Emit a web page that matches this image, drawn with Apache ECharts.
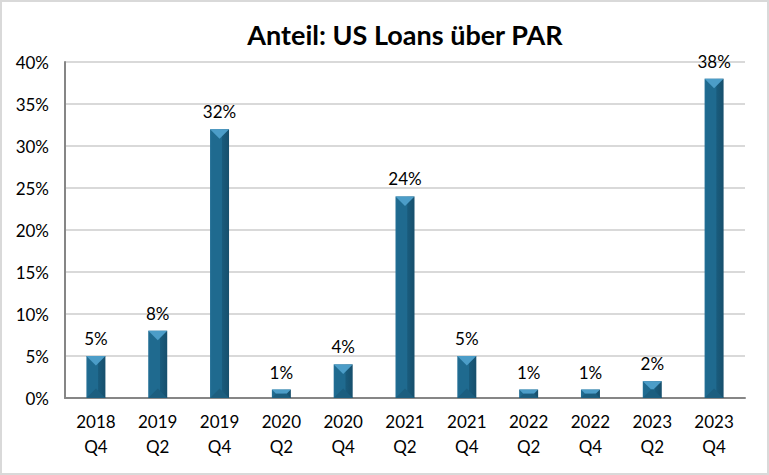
<!DOCTYPE html>
<html><head><meta charset="utf-8">
<script src="https://cdn.jsdelivr.net/npm/echarts@6/dist/echarts.min.js"></script>
<style>
html,body{margin:0;padding:0;background:#fff;}
#c{width:769px;height:475px;box-sizing:border-box;border:2px solid #d9d9d9;}
</style></head><body>
<div id="c"></div>
<script>
const title = 'Anteil: US Loans über PAR';
const categories = ['2018\nQ4','2019\nQ2','2019\nQ4','2020\nQ2','2020\nQ4','2021\nQ2','2021\nQ4','2022\nQ2','2022\nQ4','2023\nQ2','2023\nQ4'];
const values = [5, 8, 32, 1, 4, 24, 5, 1, 1, 2, 38];
const yTicks = {min: 0, max: 40, interval: 5};

const chart = echarts.init(document.getElementById('c'), null, {renderer: 'svg'});
const font = 'Lato, "Open Sans", sans-serif';
const BW = 19;
chart.setOption({
  animation: false,
  title: {text: title, left: 398, top: 14, textAlign: 'center',
    textStyle: {fontFamily: font, fontWeight: 'bold', fontSize: 27, color: '#000'}},
  grid: {left: 63, right: 22, top: 60, bottom: 75},
  xAxis: {type: 'category', data: categories,
    axisLine: {lineStyle: {color: '#868686', width: 2}},
    axisTick: {show: false},
    axisLabel: {color: '#000', fontFamily: font, fontSize: 17, lineHeight: 25, margin: 11, interval: 0}},
  yAxis: {type: 'value', min: yTicks.min, max: yTicks.max, interval: yTicks.interval,
    axisLine: {show: true, lineStyle: {color: '#868686', width: 2}},
    axisTick: {show: false},
    splitLine: {lineStyle: {color: '#d9d9d9', width: 2}},
    axisLabel: {color: '#000', fontFamily: font, fontSize: 17, margin: 16, formatter: v => v + '%'}},
  series: [{
    type: 'bar', data: values, barWidth: BW,
    itemStyle: {color: new echarts.graphic.LinearGradient(0, 0, 1, 0, [
      {offset: 0, color: '#236f96'}, {offset: 0.1, color: '#1f6a8f'},
      {offset: 0.6, color: '#1f6a8f'}, {offset: 0.64, color: '#195b7c'},
      {offset: 1, color: '#174f6c'}])},
    label: {show: true, position: 'top', distance: 9, color: '#000', fontFamily: font, fontSize: 17,
      formatter: p => p.value + '%'}
  }, {
    type: 'custom', data: values.map((v, i) => [i, v]), z: 3, silent: true,
    renderItem: function (params, api) {
      const top = api.coord([api.value(0), api.value(1)]);
      const bot = api.coord([api.value(0), 0]);
      const l = top[0] - BW / 2, r = top[0] + BW / 2;
      const H = bot[1] - top[1];
      const d = Math.min(BW / 2, H / 2);
      return {type: 'group', children: [
        {type: 'polygon', shape: {points: [[l, top[1]], [r, top[1]], [r - d, top[1] + d], [l + d, top[1] + d]]},
          style: {fill: '#4c9dc8'}},
        {type: 'polygon', shape: {points: [[l, bot[1]], [r, bot[1]], [r - d, bot[1] - d], [l + d, bot[1] - d]]},
          style: {fill: '#1c5e7f'}}
      ]};
    }
  }]
});
</script></body></html>
